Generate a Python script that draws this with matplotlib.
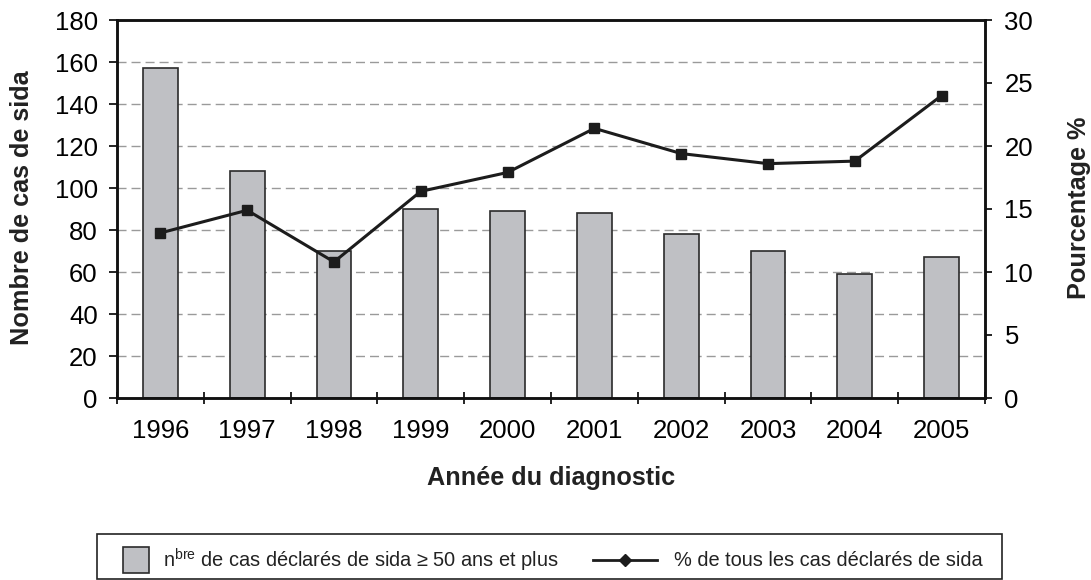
import matplotlib
matplotlib.use("Agg")
import matplotlib.pyplot as plt
from matplotlib.patches import Rectangle
from matplotlib.lines import Line2D
from matplotlib.ticker import MultipleLocator

plt.rcParams['font.family'] = ['Liberation Sans', 'DejaVu Sans']
plt.rcParams['mathtext.fontset'] = 'custom'
plt.rcParams['mathtext.rm'] = 'Liberation Sans'

# data
years = ['1996', '1997', '1998', '1999', '2000', '2001', '2002', '2003', '2004', '2005']
cases = [157, 108, 70, 90, 89, 88, 78, 70, 59, 67]
percent = [13.1, 14.9, 10.8, 16.4, 17.9, 21.4, 19.4, 18.6, 18.8, 24.0]

bar_label = "n$^{\\mathrm{bre}}$ de cas déclarés de sida ≥ 50 ans et plus"
line_label = "% de tous les cas déclarés de sida"

W, H = 1091, 580
fig = plt.figure(figsize=(W / 100, H / 100), dpi=100)
ax = fig.add_axes([117 / W, 1 - 398 / H, 868 / W, 378 / H])

x = list(range(len(years)))
ax.bar(x, cases, width=0.4, color='#bfc0c4', edgecolor='#2b2b2b', linewidth=1.2, zorder=2)
ax.set_xlim(-0.5, len(years) - 0.5)
ax.set_ylim(0, 180)
ax.yaxis.set_major_locator(MultipleLocator(20))
ax.set_axisbelow(True)
ax.grid(axis='y', color='#9a9a9a', linestyle=(0, (6.5, 3.6)), linewidth=1)

ax.set_xticks(x)
ax.set_xticklabels(years)
ax.set_xticks([i - 0.5 for i in range(len(years) + 1)], minor=True)
ax.tick_params(axis='x', which='major', length=0, pad=15, labelsize=18.5)
ax.tick_params(axis='x', which='minor', length=8.6, width=1.2, direction='inout')
ax.tick_params(axis='y', length=5.8, width=1.2, direction='out', pad=8, labelsize=18.5)

ax2 = ax.twinx()
ax2.plot(x, percent, color='#1c1c1c', linewidth=2.2, marker='s', markersize=7.5, zorder=3)
ax2.set_ylim(0, 30)
ax2.yaxis.set_major_locator(MultipleLocator(5))
ax2.tick_params(axis='y', length=5, width=1.2, direction='out', pad=9, labelsize=18.5)

for a in (ax, ax2):
    for s in a.spines.values():
        s.set_linewidth(1.8)
        s.set_color('#111111')

fig.text(22 / W, 1 - 208 / H, 'Nombre de cas de sida', rotation=90, ha='center', va='center',
         fontsize=18.2, fontweight='bold', color='#222222')
fig.text(1079 / W, 1 - 208 / H, 'Pourcentage %', rotation=90, ha='center', va='center',
         fontsize=18.2, fontweight='bold', color='#222222')
fig.text(551 / W, 1 - 478 / H, 'Année du diagnostic', ha='center', va='center',
         fontsize=18.2, fontweight='bold', color='#222222')

# legend box drawn below the chart
fig.add_artist(Rectangle((97 / W, 1 - 579 / H), 905 / W, 45 / H, transform=fig.transFigure,
                         facecolor='white', edgecolor='#222222', linewidth=1.2))
fig.add_artist(Rectangle((123 / W, 1 - 573 / H), 26 / W, 26 / H, transform=fig.transFigure,
                         facecolor='#bfc0c4', edgecolor='#2b2b2b', linewidth=1.2))
fig.text(163 / W, 1 - 560 / H, bar_label, ha='left', va='center', fontsize=14.4, color='#222222')
fig.add_artist(Line2D([593 / W, 657 / W], [1 - 560 / H, 1 - 560 / H], transform=fig.transFigure,
                      color='#1c1c1c', linewidth=2))
fig.add_artist(Line2D([625 / W], [1 - 560 / H], transform=fig.transFigure, color='#1c1c1c',
                      marker='D', markersize=6))
fig.text(674 / W, 1 - 560 / H, line_label, ha='left', va='center', fontsize=14.4, color='#222222')

fig.savefig('out.png', dpi=100)
